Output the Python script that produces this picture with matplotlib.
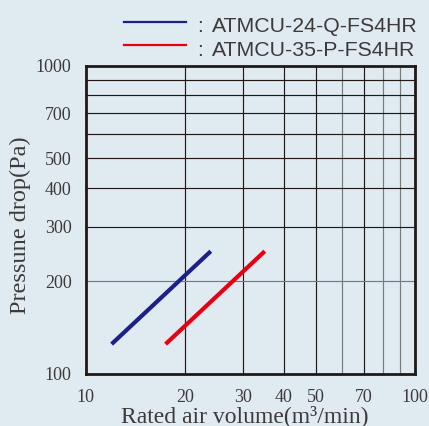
import matplotlib
matplotlib.use("Agg")
import matplotlib.pyplot as plt
from matplotlib.ticker import FixedLocator, NullLocator, FixedFormatter

# Series: rated air volume (m3/min) vs pressure drop (Pa)
series_names = ["ATMCU-24-Q-FS4HR", "ATMCU-35-P-FS4HR"]
series_colors = ["#1d2088", "#e60012"]
volume_24 = [12, 24]
pressure_24 = [125, 250]
volume_35 = [17.5, 35]
pressure_35 = [125, 250]

x_ticks = [10, 20, 30, 40, 50, 70, 100]
y_ticks = [100, 200, 300, 400, 500, 700, 1000]
x_grid_dark = [20, 30, 40, 50, 70]
x_grid_light = [60, 80, 90]
y_grid_dark = [300, 400, 500, 600, 700, 800, 900]
y_grid_light = [200]

BG = "#dfebf1"
INK = "#231815"
TEXT = "#3e3a39"
W, H = 429, 426

fig = plt.figure(figsize=(W / 100, H / 100), dpi=100, facecolor=BG)
ax = fig.add_axes([85.5 / W, 1 - 374 / H, (415 - 85.5) / W, (374 - 65.5) / H], facecolor=BG)
ax.set_xscale("log")
ax.set_yscale("log")
ax.set_xlim(10, 100)
ax.set_ylim(100, 1000)

for v in x_grid_dark:
    ax.axvline(v, color=INK, lw=0.85, zorder=1)
for v in x_grid_light:
    ax.axvline(v, color="#7a7a7a", lw=0.85, zorder=1)
for v in y_grid_dark:
    ax.axhline(v, color=INK, lw=0.85, zorder=1)
for v in y_grid_light:
    ax.axhline(v, color="#7a7a7a", lw=0.85, zorder=1)

ax.plot(volume_24, pressure_24, color=series_colors[0], lw=3.0, solid_capstyle="butt", zorder=3)
ax.plot(volume_35, pressure_35, color=series_colors[1], lw=3.0, solid_capstyle="butt", zorder=3)

serif = "Liberation Serif"
ax.xaxis.set_major_locator(FixedLocator(x_ticks))
ax.xaxis.set_major_formatter(FixedFormatter([str(t) for t in x_ticks]))
ax.xaxis.set_minor_locator(NullLocator())
ax.yaxis.set_major_locator(FixedLocator(y_ticks))
ax.yaxis.set_major_formatter(FixedFormatter([str(t) for t in y_ticks]))
ax.yaxis.set_minor_locator(NullLocator())
ax.tick_params(axis="both", length=0, labelsize=13, labelcolor=TEXT)
ax.tick_params(axis="x", pad=11)
ax.tick_params(axis="y", pad=10)
for lbl in ax.get_xticklabels() + ax.get_yticklabels():
    lbl.set_fontfamily(serif)

for s in ax.spines.values():
    s.set_color(INK)
    s.set_linewidth(2.0)

# Axis titles
fig.text(244.5 / W, 1 - 422 / H, "Rated air volume(m³/min)", fontfamily=serif,
         fontsize=17, color=TEXT, ha="center", va="baseline")
fig.text(20 / W, 1 - 225 / H, "Pressune drop(Pa)", fontfamily=serif,
         fontsize=17.5, color=TEXT, ha="center", va="center", rotation=90)

# Legend drawn as line samples with labels above the plot
for i, (name, col) in enumerate(zip(series_names, series_colors)):
    line_y = 1 - (22.3 + i * 22.5) / H
    base_y = 1 - (32.5 + i * 24) / H
    fig.add_artist(plt.Line2D([124 / W, 186 / W], [line_y, line_y], color=col, lw=1.6,
                              transform=fig.transFigure))
    fig.text(197 / W, base_y, ":", fontfamily="Liberation Sans", fontsize=15,
             color=TEXT, va="baseline", ha="left")
    fig.text(212 / W, base_y, name, fontfamily="Liberation Sans", fontsize=15.3,
             color=TEXT, va="baseline", ha="left")

fig.savefig("out.png", dpi=100, facecolor=BG)
